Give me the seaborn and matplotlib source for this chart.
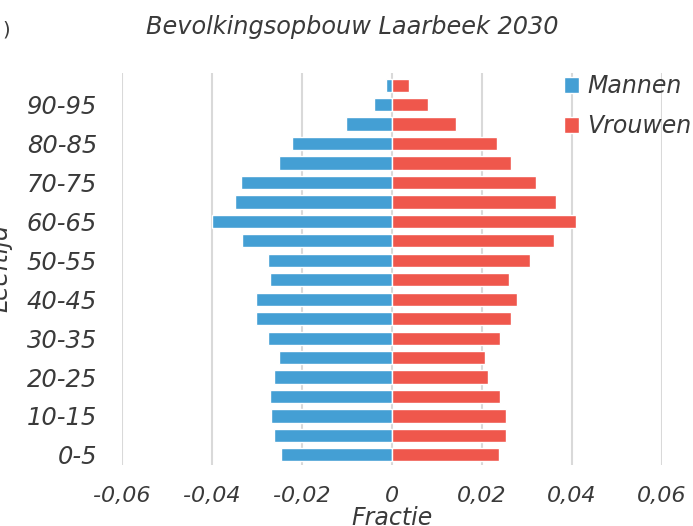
import numpy as np
import pandas as pd
import seaborn as sns
import matplotlib.pyplot as plt
from matplotlib.ticker import FuncFormatter

# age groups, youngest first
groups = ["0-5", "5-10", "10-15", "15-20", "20-25", "25-30", "30-35", "35-40",
          "40-45", "45-50", "50-55", "55-60", "60-65", "65-70", "70-75",
          "75-80", "80-85", "85-90", "90-95", "95-100"]
mannen = [0.0247, 0.0261, 0.0268, 0.0271, 0.0261, 0.0250, 0.0275, 0.0302,
          0.0302, 0.0270, 0.0276, 0.0333, 0.0399, 0.0348, 0.0336,
          0.0251, 0.0222, 0.0102, 0.0039, 0.0012]
vrouwen = [0.0237, 0.0253, 0.0253, 0.0241, 0.0214, 0.0208, 0.0240, 0.0265,
           0.0277, 0.0261, 0.0308, 0.0361, 0.0410, 0.0365, 0.0321,
           0.0264, 0.0233, 0.0143, 0.0081, 0.0039]
xticks = [-0.06, -0.04, -0.02, 0, 0.02, 0.04, 0.06]

df = pd.concat([
    pd.DataFrame({"groep": groups, "fractie": [-v for v in mannen], "geslacht": "Mannen"}),
    pd.DataFrame({"groep": groups, "fractie": vrouwen, "geslacht": "Vrouwen"}),
])

sns.set_style("white")
plt.rcParams['font.family'] = ['DejaVu Sans']
txt = "#3a3a3a"

fig = plt.figure(figsize=(6.93, 5.26), dpi=100)
ax = fig.add_axes([0.176, 0.116, 0.779, 0.745])

order = groups[::-1]
sns.barplot(data=df, x="fractie", y="groep", hue="geslacht", order=order,
            dodge=False, orient="h", width=0.68, saturation=1,
            palette={"Mannen": "#449fd4", "Vrouwen": "#ef574c"}, ax=ax)

ax.set_xlim(-0.06, 0.06)
ax.set_ylim(19.52, -0.62)
ax.set_xticks(xticks)
ax.xaxis.set_major_formatter(FuncFormatter(lambda v, p: "0" if abs(v) < 1e-9 else f"{v:.2f}".replace(".", ",")))
ax.set_yticks([order.index(g) for g in groups[::2]])
ax.set_yticklabels(groups[::2])
ax.grid(axis="x", color="#d9d9d9", linewidth=1.5)
ax.set_axisbelow(True)
for s in ax.spines.values():
    s.set_visible(False)
ax.tick_params(axis="x", length=0, pad=15, labelsize=16, labelcolor=txt)
ax.tick_params(axis="y", length=0, pad=18, labelsize=17.5, labelcolor=txt)
for lab in ax.get_xticklabels() + ax.get_yticklabels():
    lab.set_fontstyle("italic")

ax.set_xlabel("Fractie", fontsize=17, fontstyle="italic", color=txt, labelpad=0)
ax.set_ylabel("")
fig.text(0.0, 0.49, "Leeftijd", rotation=90, ha="center", va="center",
         fontsize=17, fontstyle="italic", color=txt)
fig.text(0.004, 0.943, ")", ha="left", va="center", fontsize=14, color=txt)
fig.text(0.509, 0.949, "Bevolkingsopbouw Laarbeek 2030", ha="center", va="center",
         fontsize=17.3, fontstyle="italic", color=txt)

leg = ax.legend(loc="upper left", bbox_to_anchor=(564 / 693, 1 - 74 / 526),
                bbox_transform=fig.transFigure, frameon=False,
                borderpad=0, borderaxespad=0,
                handlelength=0.64, handleheight=0.64, handletextpad=0.34,
                labelspacing=0.68, prop={"size": 17, "style": "italic"})
for t in leg.get_texts():
    t.set_color(txt)

fig.savefig("out.png", dpi=100)
